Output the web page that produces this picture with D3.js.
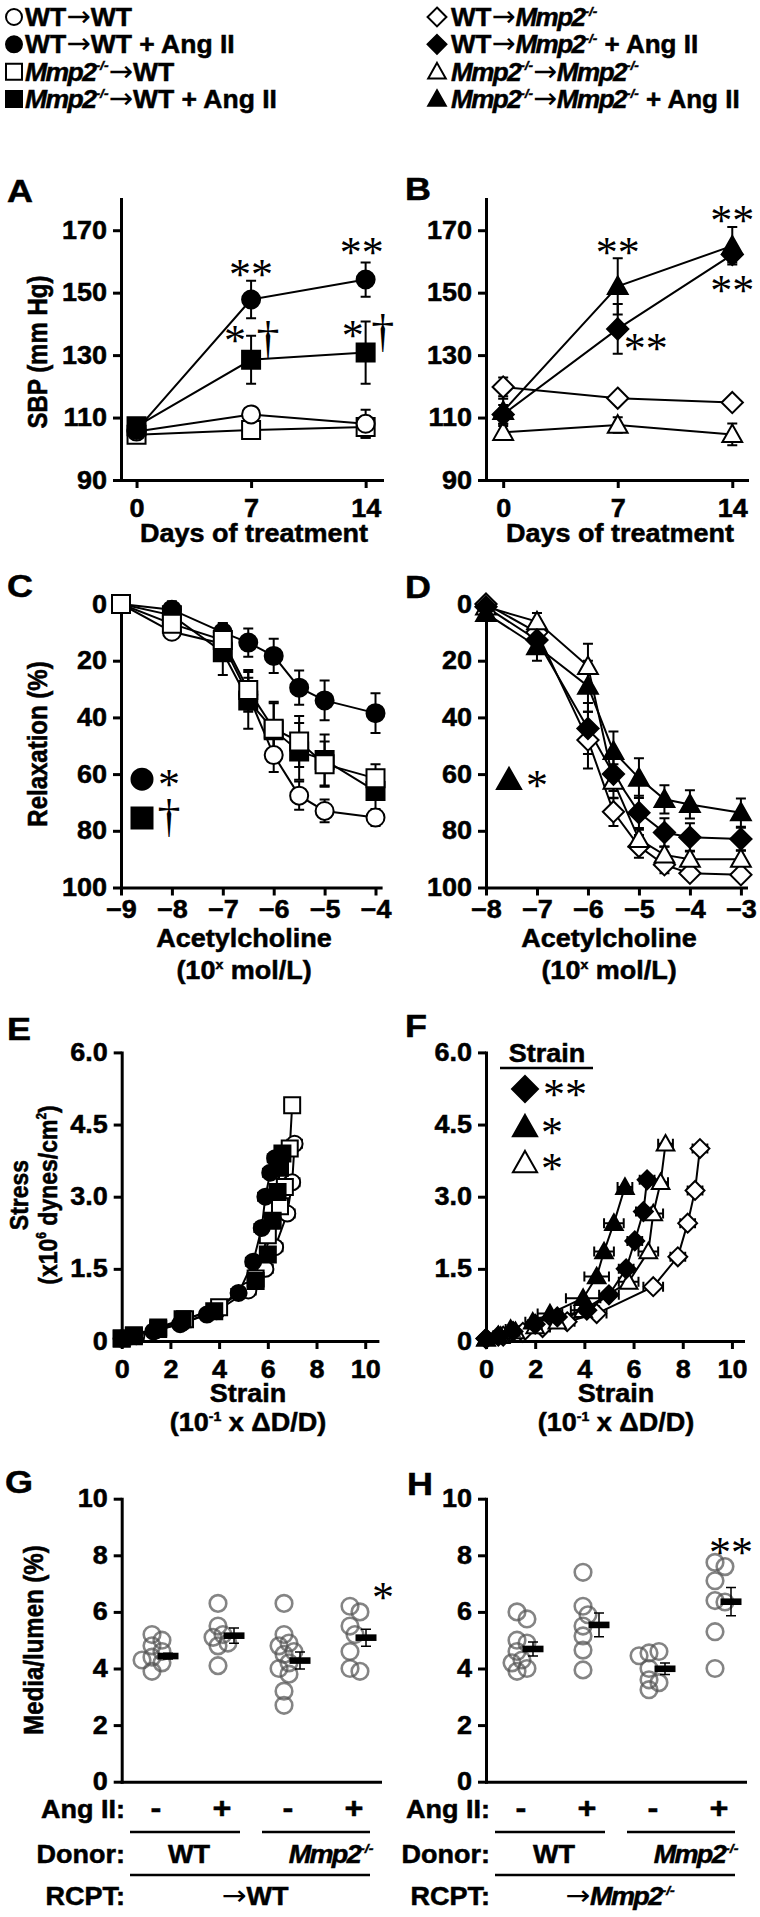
<!DOCTYPE html>
<html>
<head>
<meta charset="utf-8">
<title>Mmp2 chimera figure</title>
<script src="https://cdn.jsdelivr.net/npm/d3@7"></script>
<style>
  html, body { margin: 0; padding: 0; background: #fff; }
  svg { display: block; }
</style>
</head>
<body>
<svg id="fig" width="760" height="1917"></svg>
<script>
// ---------- data ----------

// A/B: systolic blood pressure (mm Hg)
var sbpDays = [0, 7, 14];
var sbpTicks = [90, 110, 130, 150, 170];
var sbpWtWt = [105.5, 111, 108];        var sbpWtWtErr = [1.5, 2, 4.5];
var sbpWtWtAng = [106, 147.8, 154.2];   var sbpWtWtAngErr = [1.5, 6, 5.5];
var sbpKoWt = [104.5, 106, 107];        var sbpKoWtErr = [1.5, 2, 3.5];
var sbpKoWtAng = [107.2, 128.5, 130.8]; var sbpKoWtAngErr = [1.5, 7.7, 10];
var sbpWtKo = [119.8, 116.2, 114.8];    var sbpWtKoErr = [3, 1.5, 1.5];
var sbpWtKoAng = [111, 138.4, 162.2];   var sbpWtKoAngErr = [3, 8, 2.5];
var sbpKoKo = [105.3, 107.6, 104.6];    var sbpKoKoErr = [2, 2.5, 3.5];
var sbpKoKoAng = [112, 152, 165];       var sbpKoKoAngErr = [4, 9, 6];

// C/D: relaxation (%) vs log acetylcholine
var achC = [-9, -8, -7, -6.5, -6, -5.5, -5, -4];
var achTicksC = [-9, -8, -7, -6, -5, -4];
var relWtWt = [0, 9.8, 14, 32, 53.3, 67.6, 73, 75.3];
var relWtWtErr = [0, 2, 3, 6, 6, 5, 4, 3];
var relWtWtAng = [0, 2, 10, 13.6, 18.3, 29.5, 34, 38.5];
var relWtWtAngErr = [0, 3, 3, 5, 6, 6, 7, 7];
var relKoWt = [0, 7, 12.7, 30.3, 44, 48.5, 56.5, 61.5];
var relKoWtErr = [0, 3, 6, 7, 9, 9, 8, 5];
var relKoWtAng = [0, 4, 17, 34, 44.5, 52, 55, 66];
var relKoWtAngErr = [0, 3, 8, 10, 10, 10, 9, 7];

var achD = [-8, -7, -6, -5.5, -5, -4.5, -4, -3];
var achTicksD = [-8, -7, -6, -5, -4, -3];
var relWtKo = [0, 10, 48, 73.3, 85.5, 92, 95, 95.5];
var relWtKoErr = [0, 3, 10, 5, 4, 3, 2, 2];
var relWtKoAng = [1, 12.7, 43.9, 60, 73.6, 80.6, 82.3, 82.9];
var relWtKoAngErr = [0, 4, 9, 6, 6, 5, 5, 4];
var relKoKo = [1, 6.2, 22, 62.5, 83, 88.5, 90, 90];
var relKoKoErr = [0, 3, 8, 6, 4, 3, 3, 3];
var relKoKoAng = [3.3, 15, 29, 52, 61.4, 68.9, 70.7, 73.6];
var relKoKoAngErr = [0, 5, 9, 7, 7, 5, 5, 5];
var relTicks = [0, 20, 40, 60, 80, 100];

// E/F: stress (x10^6 dynes/cm2) vs strain (10^-1 x dD/D)
var stressTicks = [0, 1.5, 3, 4.5, 6];
var strainTicks = [0, 2, 4, 6, 8, 10];
var eWtWtX = [0, 0.6, 1.4, 2.5, 3.9, 5.2, 5.9, 6.3, 6.8, 7.0, 7.1];
var eWtWtY = [0.05, 0.1, 0.22, 0.38, 0.62, 1.05, 1.5, 1.95, 2.65, 3.3, 4.1];
var eWtWtAngX = [0, 0.4, 1.3, 2.4, 3.5, 4.8, 5.4, 5.75, 5.9, 6.1, 6.3];
var eWtWtAngY = [0.05, 0.1, 0.2, 0.35, 0.55, 1.0, 1.65, 2.35, 3.0, 3.5, 3.8];
var eKoWtX = [0, 0.5, 1.5, 2.6, 4.0, 5.5, 6.0, 6.5, 6.7, 6.9, 7.0];
var eKoWtY = [0.05, 0.1, 0.25, 0.45, 0.7, 1.3, 2.2, 2.8, 3.2, 4.0, 4.9];
var eKoWtAngX = [0, 0.5, 1.5, 2.5, 3.8, 5.5, 6.0, 6.2, 6.4, 6.5, 6.6];
var eKoWtAngY = [0.05, 0.12, 0.28, 0.45, 0.62, 1.25, 1.8, 2.5, 3.1, 3.6, 3.9];
var eStrainErr = [0.1, 0.1, 0.15, 0.2, 0.25, 0.3, 0.3, 0.3, 0.3, 0.3, 0.3];

var fKoKoAngX = [0, 0.5, 1.0, 1.9, 2.6, 3.95, 4.5, 4.8, 5.2, 5.65];
var fKoKoAngY = [0.05, 0.12, 0.25, 0.4, 0.57, 0.89, 1.34, 1.86, 2.45, 3.2];
var fKoKoAngErr = [0.1, 0.2, 0.2, 0.3, 0.5, 0.7, 0.5, 0.4, 0.4, 0.3];
var fWtKoAngX = [0, 0.5, 1.1, 2.0, 2.9, 4.1, 5.0, 5.7, 6.05, 6.4, 6.55];
var fWtKoAngY = [0.05, 0.1, 0.2, 0.35, 0.5, 0.64, 0.96, 1.5, 2.08, 2.69, 3.35];
var fWtKoAngErr = [0.1, 0.2, 0.2, 0.3, 0.4, 0.5, 0.4, 0.3, 0.3, 0.3, 0.3];
var fKoKoX = [0, 0.6, 1.2, 2.0, 2.9, 3.95, 5.8, 6.6, 6.8, 7.1, 7.3];
var fKoKoY = [0.05, 0.1, 0.2, 0.3, 0.4, 0.64, 1.23, 1.86, 2.65, 3.3, 4.1];
var fKoKoErr = [0.1, 0.2, 0.2, 0.3, 0.4, 0.5, 0.4, 0.4, 0.4, 0.3, 0.3];
var fWtKoX = [0, 0.7, 1.5, 2.3, 3.3, 4.5, 6.8, 7.8, 8.2, 8.5, 8.7];
var fWtKoY = [0.05, 0.1, 0.18, 0.28, 0.4, 0.57, 1.13, 1.75, 2.45, 3.13, 4.0];
var fWtKoErr = [0.1, 0.2, 0.2, 0.3, 0.3, 0.4, 0.4, 0.3, 0.3, 0.3, 0.3];

// G/H: media/lumen (%) per animal, with group mean and SEM
var mlGroups = ['wt-', 'wt+', 'ko-', 'ko+'];
var mlTicks = [0, 2, 4, 6, 8, 10];
var mlG = [
  [5.2, 5.0, 4.8, 4.6, 4.4, 4.3, 4.2, 3.9],
  [6.3, 5.5, 5.2, 5.1, 4.9, 4.8, 4.1],
  [6.3, 5.2, 4.9, 4.8, 4.6, 4.5, 4.2, 4.0, 3.8, 3.2, 2.7],
  [6.2, 6.0, 5.5, 5.2, 4.6, 4.0, 3.9]
];
var mlGMean = [4.44, 5.16, 4.28, 5.09];
var mlGSem = [0.1, 0.27, 0.3, 0.3];
var mlH = [
  [6.0, 5.75, 5.0, 4.9, 4.6, 4.3, 4.2, 4.0, 3.9],
  [7.4, 6.2, 5.9, 5.5, 5.15, 4.65, 3.95],
  [4.55, 4.6, 4.45, 4.0, 3.6, 3.5, 3.25],
  [7.75, 7.6, 7.1, 6.4, 6.35, 5.3, 4.0]
];
var mlHMean = [4.69, 5.54, 3.99, 6.36];
var mlHSem = [0.25, 0.42, 0.2, 0.5];
var angSigns = ['-', '+', '-', '+'];

// legend
var legendLeft = ['WT→WT', 'WT→WT + Ang II', 'Mmp2^{-/-}→WT', 'Mmp2^{-/-}→WT + Ang II'];
var legendLeftKeys = ['wtwt', 'wtwtAng', 'kowt', 'kowtAng'];
var legendRight = ['WT→Mmp2^{-/-}', 'WT→Mmp2^{-/-} + Ang II', 'Mmp2^{-/-}→Mmp2^{-/-}', 'Mmp2^{-/-}→Mmp2^{-/-} + Ang II'];
var legendRightKeys = ['wtko', 'wtkoAng', 'koko', 'kokoAng'];

// ---------- drawing ----------
var FONT = '"Liberation Sans", Arial, Helvetica, sans-serif';
var SERIF = '"Liberation Serif", "Times New Roman", serif';
var SX = 1.08;       // glyphs in the source figure run slightly wide
var FS = 25;

var SYM = {
  wtwt:    { shape: 'circle',   filled: false },
  wtwtAng: { shape: 'circle',   filled: true },
  kowt:    { shape: 'square',   filled: false },
  kowtAng: { shape: 'square',   filled: true },
  wtko:    { shape: 'diamond',  filled: false },
  wtkoAng: { shape: 'diamond',  filled: true },
  koko:    { shape: 'triangle', filled: false },
  kokoAng: { shape: 'triangle', filled: true }
};

var svg = d3.select('#fig');
svg.append('rect').attr('width', 760).attr('height', 1917).attr('fill', '#fff');

function markerPath(shape, s) {
  if (shape === 'circle') {
    return 'M' + (-s) + ',0A' + s + ',' + s + ' 0 1,0 ' + s + ',0A' + s + ',' + s + ' 0 1,0 ' + (-s) + ',0Z';
  }
  if (shape === 'square') {
    return 'M' + (-s) + ',' + (-s) + 'H' + s + 'V' + s + 'H' + (-s) + 'Z';
  }
  if (shape === 'diamond') {
    var d = s * 1.18;
    return 'M0,' + (-d) + 'L' + d + ',0L0,' + d + 'L' + (-d) + ',0Z';
  }
  // triangle
  var h = s * 1.1;
  return 'M0,' + (-h) + 'L' + (s * 1.1) + ',' + (s * 0.85) + 'L' + (-s * 1.1) + ',' + (s * 0.85) + 'Z';
}

function marker(g, key, x, y, s) {
  var cfg = SYM[key];
  g.append('path')
    .attr('d', markerPath(cfg.shape, s))
    .attr('transform', 'translate(' + x + ',' + y + ')')
    .attr('fill', cfg.filled ? '#000' : '#fff')
    .attr('stroke', '#000')
    .attr('stroke-width', 2);
}

// tokens: Mmp2 (italic), ^{..} superscript, arrow
function rich(t, str, size) {
  var tokens = str.split(/(\^\{[^}]*\}|→|Mmp2)/).filter(function (s) { return s.length; });
  var shift = 0, italic = false;
  tokens.forEach(function (tok) {
    var ts = t.append('tspan');
    if (tok.indexOf('^{') === 0) {
      ts.attr('font-size', size * 0.52).attr('dy', -size * 0.4).text(tok.slice(2, -1));
      if (italic) ts.attr('font-style', 'italic');
      shift = size * 0.4;
      return;
    }
    if (shift) { ts.attr('dy', shift); shift = 0; }
    italic = tok === 'Mmp2';
    if (italic) ts.attr('font-style', 'italic').attr('letter-spacing', -1.5);
    if (tok === '→') {
      ts.attr('font-weight', 'normal').attr('font-family', '"DejaVu Sans", sans-serif')
        .attr('font-size', size * 1.1).attr('stroke-width', 0);
    }
    ts.text(tok);
  });
}

function txt(parent, x, y, str, o) {
  o = o || {};
  var size = o.size || FS;
  var sx = o.sx || SX;
  var tr = 'translate(' + x + ',' + y + ')';
  // rotated titles: the extra width goes into the glyph height direction
  if (o.rotate) tr += ' rotate(' + o.rotate + ') scale(1,' + sx + ')';
  else tr += ' scale(' + sx + ',1)';
  var t = parent.append('text')
    .attr('transform', tr)
    .attr('text-anchor', o.anchor || 'start')
    .attr('font-size', size)
    .attr('font-family', o.family || FONT)
    .attr('font-weight', o.weight || 'bold')
    .attr('fill', '#000');
  if ((o.weight || 'bold') === 'bold') t.attr('stroke', '#000').attr('stroke-width', 0.5);
  rich(t, str, size);
  return t;
}

// asterisks / daggers drawn with the serif face, centred on (x, y)
function star(parent, x, y, str) {
  return txt(parent, x, y + 20, str, { family: SERIF, weight: 'normal', size: 44, anchor: 'middle', sx: 1 });
}
function dagger(parent, x, y) {
  return txt(parent, x, y + 14, '†', { family: SERIF, weight: 'normal', size: 46, anchor: 'middle', sx: 1 });
}

function styleAxis(a) {
  a.select('.domain').attr('stroke', '#000').attr('stroke-width', 3).attr('stroke-linecap', 'square');
  a.selectAll('.tick line').attr('stroke', '#000').attr('stroke-width', 3);
  a.selectAll('.tick text')
    .attr('font-size', FS).attr('font-weight', 'bold').attr('font-family', FONT)
    .attr('fill', '#000').attr('stroke', '#000').attr('stroke-width', 0.5)
    .attr('transform', 'scale(' + SX + ',1)');
}

function yAxis(x0, scale, ticks, fmt) {
  var ax = d3.axisLeft(scale).tickValues(ticks).tickSize(8).tickSizeOuter(0).tickPadding(5)
    .tickFormat(fmt || d3.format('d'));
  var a = svg.append('g').attr('transform', 'translate(' + x0 + ',0)').call(ax);
  styleAxis(a);
  return a;
}

function xAxis(y0, scale, ticks, pad, fmt) {
  var ax = d3.axisBottom(scale).tickSize(8).tickSizeOuter(0).tickPadding(pad);
  if (ticks) ax.tickValues(ticks).tickFormat(fmt || d3.format('d'));
  else ax.tickValues([]);
  var a = svg.append('g').attr('transform', 'translate(0,' + y0 + ')').call(ax);
  styleAxis(a);
  return a;
}

// series: {key, xs, ys, yErr, xErr}
function plotSeries(series, x, y, size) {
  var g = svg.append('g');
  var line = d3.line().x(function (d) { return x(d[0]); }).y(function (d) { return y(d[1]); });
  series.forEach(function (s) {
    g.append('path').datum(d3.zip(s.xs, s.ys)).attr('d', line)
      .attr('fill', 'none').attr('stroke', '#000').attr('stroke-width', 2);
  });
  var cap = 5;
  series.forEach(function (s) {
    s.xs.forEach(function (xv, i) {
      var px = x(xv), py = y(s.ys[i]);
      if (s.yErr && s.yErr[i] > 0) {
        var y1 = y(s.ys[i] - s.yErr[i]), y2 = y(s.ys[i] + s.yErr[i]);
        g.append('path').attr('d', 'M' + px + ',' + y1 + 'V' + y2 + 'M' + (px - cap) + ',' + y1 + 'h' + (2 * cap) +
          'M' + (px - cap) + ',' + y2 + 'h' + (2 * cap))
          .attr('stroke', '#000').attr('stroke-width', 2).attr('fill', 'none');
      }
      if (s.xErr && s.xErr[i] > 0) {
        var x1 = x(xv - s.xErr[i]), x2 = x(xv + s.xErr[i]);
        g.append('path').attr('d', 'M' + x1 + ',' + py + 'H' + x2 + 'M' + x1 + ',' + (py - cap) + 'v' + (2 * cap) +
          'M' + x2 + ',' + (py - cap) + 'v' + (2 * cap))
          .attr('stroke', '#000').attr('stroke-width', 2).attr('fill', 'none');
      }
    });
  });
  series.forEach(function (s) {
    s.xs.forEach(function (xv, i) { marker(g, s.key, x(xv), y(s.ys[i]), size); });
  });
  return g;
}

// ----- legend -----
var legY = d3.scaleLinear().domain([0, 3]).range([17, 99]);
legendLeft.forEach(function (lab, i) {
  marker(svg, legendLeftKeys[i], 14, legY(i), 8);
  txt(svg, 25, legY(i) + 9, lab, { size: 26, sx: 1.02 });
});
legendRight.forEach(function (lab, i) {
  marker(svg, legendRightKeys[i], 437, legY(i), 8);
  txt(svg, 451, legY(i) + 9, lab, { size: 26, sx: 1.0 });
});

// ----- panel labels -----
[['A', 7, 202], ['B', 405, 200], ['C', 7, 597], ['D', 405, 598],
 ['E', 7, 1040], ['F', 405, 1037], ['G', 5, 1493], ['H', 407, 1495]].forEach(function (p) {
  txt(svg, p[1], p[2], p[0], { size: 31, sx: 1.16 });
});

// ----- A / B -----
var sbpY = d3.scaleLinear().domain([90, 180]).range([480, 199]);
var sbpXA = d3.scaleLinear().domain([-0.95, 15]).range([121, 382]);
var sbpXB = d3.scaleLinear().domain([-1.05, 14.9]).range([486, 747]);
[[121, sbpXA], [486, sbpXB]].forEach(function (p) {
  yAxis(p[0], sbpY, sbpTicks);
  xAxis(480, p[1], sbpDays, 11);
});
txt(svg, 47, 352, 'SBP (mm Hg)', { rotate: -90, anchor: 'middle', size: 24, sx: 1.15 });
txt(svg, 254, 542, 'Days of treatment', { anchor: 'middle' });
txt(svg, 620, 542, 'Days of treatment', { anchor: 'middle' });

plotSeries([
  { key: 'kowt', xs: sbpDays, ys: sbpKoWt, yErr: sbpKoWtErr },
  { key: 'wtwt', xs: sbpDays, ys: sbpWtWt, yErr: sbpWtWtErr },
  { key: 'wtwtAng', xs: sbpDays, ys: sbpWtWtAng, yErr: sbpWtWtAngErr },
  { key: 'kowtAng', xs: sbpDays, ys: sbpKoWtAng, yErr: sbpKoWtAngErr }
], sbpXA, sbpY, 9);
plotSeries([
  { key: 'koko', xs: sbpDays, ys: sbpKoKo, yErr: sbpKoKoErr },
  { key: 'wtko', xs: sbpDays, ys: sbpWtKo, yErr: sbpWtKoErr },
  { key: 'wtkoAng', xs: sbpDays, ys: sbpWtKoAng, yErr: sbpWtKoAngErr },
  { key: 'kokoAng', xs: sbpDays, ys: sbpKoKoAng, yErr: sbpKoKoAngErr }
], sbpXB, sbpY, 9);

star(svg, sbpXA(7), sbpY(157.5), '**');
star(svg, sbpXA(14) - 4, sbpY(164.5), '**');
star(svg, sbpXA(7) - 16, sbpY(136.5), '*');
dagger(svg, sbpXA(7) + 17, sbpY(135));
star(svg, sbpXA(14) - 13, sbpY(138), '*');
dagger(svg, sbpXA(14) + 17, sbpY(137));

star(svg, sbpXB(7), sbpY(164.7), '**');
star(svg, sbpXB(14), sbpY(175), '**');
star(svg, sbpXB(14), sbpY(152.5), '**');
star(svg, sbpXB(7) + 28, sbpY(134), '**');

// ----- C / D -----
var relY = d3.scaleLinear().domain([0, 100]).range([604, 887.5]);
var achXC = d3.scaleLinear().domain([-9, -3.9]).range([121, 380.6]);
var achXD = d3.scaleLinear().domain([-8, -2.9]).range([486, 746]);
yAxis(121, relY, relTicks);
yAxis(486, relY, relTicks);
xAxis(887.5, achXC, achTicksC, 5);
xAxis(887.5, achXD, achTicksD, 5);
txt(svg, 47, 744, 'Relaxation (%)', { rotate: -90, anchor: 'middle', size: 24, sx: 1.15 });
txt(svg, 244, 947, 'Acetylcholine', { anchor: 'middle' });
txt(svg, 244, 979, '(10^{x} mol/L)', { anchor: 'middle' });
txt(svg, 609, 947, 'Acetylcholine', { anchor: 'middle' });
txt(svg, 609, 979, '(10^{x} mol/L)', { anchor: 'middle' });

plotSeries([
  { key: 'wtwt', xs: achC, ys: relWtWt, yErr: relWtWtErr },
  { key: 'wtwtAng', xs: achC, ys: relWtWtAng, yErr: relWtWtAngErr },
  { key: 'kowtAng', xs: achC, ys: relKoWtAng, yErr: relKoWtAngErr },
  { key: 'kowt', xs: achC, ys: relKoWt, yErr: relKoWtErr }
], achXC, relY, 9);
plotSeries([
  { key: 'wtko', xs: achD, ys: relWtKo, yErr: relWtKoErr },
  { key: 'koko', xs: achD, ys: relKoKo, yErr: relKoKoErr },
  { key: 'wtkoAng', xs: achD, ys: relWtKoAng, yErr: relWtKoAngErr },
  { key: 'kokoAng', xs: achD, ys: relKoKoAng, yErr: relKoKoAngErr }
], achXD, relY, 9);

marker(svg, 'wtwtAng', 142, relY(61.8), 10.5);
star(svg, 169, relY(61.8), '*');
marker(svg, 'kowtAng', 142, relY(75.5), 10.5);
dagger(svg, 169, relY(75.5));
marker(svg, 'kokoAng', 509, relY(62), 11);
star(svg, 537, relY(62), '*');

// ----- E / F -----
var stressY = d3.scaleLinear().domain([0, 6]).range([1341, 1052.4]);
var strainXE = d3.scaleLinear().domain([0, 10.5]).range([121.7, 377.4]);
var strainXF = d3.scaleLinear().domain([0, 10.45]).range([486, 743]);
var stressFmt = function (v) { return v === 0 ? '0' : d3.format('.1f')(v); };
yAxis(121.7, stressY, stressTicks, stressFmt);
yAxis(486, stressY, stressTicks, stressFmt);
xAxis(1341, strainXE, strainTicks, 11);
xAxis(1341, strainXF, strainTicks, 11);
txt(svg, 28, 1195, 'Stress', { rotate: -90, anchor: 'middle', size: 23, sx: 1.15 });
txt(svg, 57, 1195, '(x10^{6} dynes/cm^{2})', { rotate: -90, anchor: 'middle', size: 23, sx: 1.15 });
txt(svg, 248, 1402, 'Strain', { anchor: 'middle' });
txt(svg, 248, 1431, '(10^{-1} x ΔD/D)', { anchor: 'middle' });
txt(svg, 616, 1402, 'Strain', { anchor: 'middle' });
txt(svg, 616, 1431, '(10^{-1} x ΔD/D)', { anchor: 'middle' });

plotSeries([
  { key: 'wtwt', xs: eWtWtX, ys: eWtWtY, xErr: eStrainErr },
  { key: 'kowt', xs: eKoWtX, ys: eKoWtY, xErr: eStrainErr },
  { key: 'wtwtAng', xs: eWtWtAngX, ys: eWtWtAngY, xErr: eStrainErr },
  { key: 'kowtAng', xs: eKoWtAngX, ys: eKoWtAngY, xErr: eStrainErr }
], strainXE, stressY, 8);
plotSeries([
  { key: 'wtko', xs: fWtKoX, ys: fWtKoY, xErr: fWtKoErr },
  { key: 'koko', xs: fKoKoX, ys: fKoKoY, xErr: fKoKoErr },
  { key: 'wtkoAng', xs: fWtKoAngX, ys: fWtKoAngY, xErr: fWtKoAngErr },
  { key: 'kokoAng', xs: fKoKoAngX, ys: fKoKoAngY, xErr: fKoKoAngErr }
], strainXF, stressY, 8);

// F legend box
txt(svg, 547, 1062, 'Strain', { anchor: 'middle' });
svg.append('line').attr('x1', 500).attr('x2', 593).attr('y1', 1068).attr('y2', 1068)
  .attr('stroke', '#000').attr('stroke-width', 2.5);
[['wtkoAng', '**', 1089], ['kokoAng', '*', 1127], ['koko', '*', 1163]].forEach(function (r) {
  marker(svg, r[0], 525, r[2], 11);
  star(svg, r[1].length > 1 ? 565 : 552, r[2], r[1]);
});

// ----- G / H -----
var mlY = d3.scaleLinear().domain([0, 10]).range([1781.7, 1498.7]);
var catG = d3.scalePoint().domain(mlGroups).range([156, 354]);
var catH = d3.scalePoint().domain(mlGroups).range([521, 719]);
yAxis(121.7, mlY, mlTicks);
yAxis(486, mlY, mlTicks);
xAxis(1781.7, d3.scaleLinear().domain([0, 1]).range([121.7, 380]), null, 0);
xAxis(1781.7, d3.scaleLinear().domain([0, 1]).range([486, 745]), null, 0);
txt(svg, 43, 1640, 'Media/lumen (%)', { rotate: -90, anchor: 'middle', size: 24, sx: 1.15 });

function swarm(values, r) {
  var placed = [];
  var steps = [0, 1, -1, 2, -2, 3, -3];
  return values.map(function (v) {
    var py = mlY(v), dx = steps[steps.length - 1] * r * 0.6;
    for (var k = 0; k < steps.length; k++) {
      var cx = steps[k] * r * 0.6;
      var ok = placed.every(function (p) { return Math.hypot(p.x - cx, p.y - py) >= r * 1.05; });
      if (ok) { dx = cx; break; }
    }
    placed.push({ x: dx, y: py });
    return dx;
  });
}

function dotPanel(cat, vals, means, sems) {
  var g = svg.append('g');
  var r = 8.3;
  mlGroups.forEach(function (grp, i) {
    var cx = cat(grp) - 4;
    var offs = swarm(vals[i], r);
    vals[i].forEach(function (v, j) {
      g.append('circle').attr('cx', cx + offs[j]).attr('cy', mlY(v)).attr('r', r)
        .attr('fill', 'none').attr('stroke', '#555').attr('stroke-opacity', 0.72).attr('stroke-width', 2.6);
    });
    var mx = cat(grp) + 12;
    var y1 = mlY(means[i] - sems[i]), y2 = mlY(means[i] + sems[i]);
    g.append('path').attr('d', 'M' + mx + ',' + y1 + 'V' + y2 + 'M' + (mx - 5) + ',' + y1 + 'h10M' + (mx - 5) + ',' + y2 + 'h10')
      .attr('stroke', '#000').attr('stroke-width', 1.5).attr('fill', 'none');
    g.append('rect').attr('x', mx - 10.5).attr('y', mlY(means[i]) - 3.3).attr('width', 21).attr('height', 6.6).attr('fill', '#000');
  });
}
dotPanel(catG, mlG, mlGMean, mlGSem);
dotPanel(catH, mlH, mlHMean, mlHSem);
star(svg, 383, mlY(6.7), '*');
star(svg, 731, mlY(8.3), '**');

// group labels beneath G/H
function groupLabels(cat, right, donorKo, rcpt) {
  txt(svg, right, 1818, 'Ang II:', { anchor: 'end' });
  txt(svg, right, 1863, 'Donor:', { anchor: 'end' });
  txt(svg, right, 1905, 'RCPT:', { anchor: 'end' });
  mlGroups.forEach(function (grp, i) {
    txt(svg, cat(grp), 1818, angSigns[i], { anchor: 'middle', size: 30 });
  });
  var wtMid = (cat('wt-') + cat('wt+')) / 2, koMid = (cat('ko-') + cat('ko+')) / 2;
  txt(svg, wtMid, 1863, 'WT', { anchor: 'middle' });
  txt(svg, koMid + 10, 1863, donorKo, { anchor: 'middle' });
  txt(svg, (wtMid + koMid) / 2, 1905, rcpt, { anchor: 'middle' });
  var lines = [
    [cat('wt-') - 26, cat('wt+') + 18, 1832],
    [cat('ko-') - 26, cat('ko+') + 16, 1832],
    [cat('wt-') - 26, cat('ko+') + 16, 1875]
  ];
  lines.forEach(function (l) {
    svg.append('line').attr('x1', l[0]).attr('x2', l[1]).attr('y1', l[2]).attr('y2', l[2])
      .attr('stroke', '#000').attr('stroke-width', 2.5);
  });
}
groupLabels(catG, 125, 'Mmp2^{-/-}', '→WT');
groupLabels(catH, 490, 'Mmp2^{-/-}', '→Mmp2^{-/-}');
</script>
</body>
</html>
